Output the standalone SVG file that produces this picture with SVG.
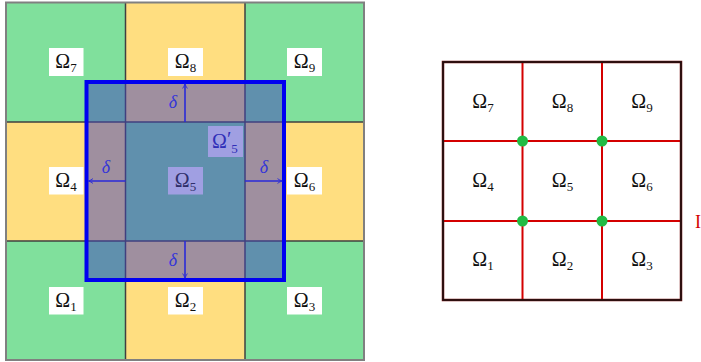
<svg xmlns="http://www.w3.org/2000/svg" width="701" height="362" viewBox="0 0 701 362">
<style>
.g{fill:#80e09c}
.y{fill:#ffde80}
.grid{stroke:#404040;stroke-width:1.5;fill:none}
.lbl{font-family:"Liberation Serif","DejaVu Serif",serif;font-size:20px;fill:#111}
.sub{font-size:13px}
.box{fill:#ffffff}
.d{font-family:"Liberation Serif","DejaVu Serif",serif;font-style:italic;font-size:18px;fill:#3535d8}
.arr{stroke:#2a2ad8;stroke-width:1.6;fill:none;marker-end:url(#ah)}
.red{stroke:#d40000;stroke-width:2;fill:none}
.dot{fill:#22bb44}
</style>
<defs>
<marker id="ah" viewBox="0 0 10 10" refX="8.5" refY="5" markerWidth="6" markerHeight="6" orient="auto" markerUnits="userSpaceOnUse">
<path d="M1,1 Q5,4 9,5 Q5,6 1,9" fill="none" stroke="#2a2ad8" stroke-width="1.5"/>
</marker>
</defs>

<g id="left-panel">
<g id="cells">
<rect class="g" x="6" y="2.5" width="119.5" height="119.5"/>
<rect class="y" x="125.5" y="2.5" width="119.5" height="119.5"/>
<rect class="g" x="245" y="2.5" width="119" height="119.5"/>
<rect class="y" x="6" y="122" width="119.5" height="119"/>
<rect class="g" x="125.5" y="122" width="119.5" height="119"/>
<rect class="y" x="245" y="122" width="119" height="119"/>
<rect class="g" x="6" y="241" width="119.5" height="119"/>
<rect class="y" x="125.5" y="241" width="119.5" height="119"/>
<rect class="g" x="245" y="241" width="119" height="119"/>
<path class="grid" d="M125.5,2.5V360M245,2.5V360M6,122H364M6,241H364"/>
<rect x="6" y="2.5" width="358" height="357.5" fill="none" stroke="#808080" stroke-width="2"/>
</g>
<g id="omega5prime-region">
<rect x="86.5" y="82" width="197.5" height="198" fill="#4040be" fill-opacity="0.5"/>
<rect x="86.5" y="82" width="197.5" height="198" fill="none" stroke="#0000f0" stroke-width="4"/>
</g>
<g id="L7"><rect class="box" x="49" y="48" width="34.5" height="28"/><text class="lbl" x="66" y="68" text-anchor="middle">Ω<tspan class="sub" dy="4">7</tspan></text></g>
<g id="L8"><rect class="box" x="168" y="48" width="35" height="28"/><text class="lbl" x="185.5" y="68" text-anchor="middle">Ω<tspan class="sub" dy="4">8</tspan></text></g>
<g id="L9"><rect class="box" x="287" y="48" width="35" height="28"/><text class="lbl" x="304.5" y="68" text-anchor="middle">Ω<tspan class="sub" dy="4">9</tspan></text></g>
<g id="L4"><rect class="box" x="49" y="167" width="34.5" height="27.5"/><text class="lbl" x="66" y="187" text-anchor="middle">Ω<tspan class="sub" dy="4">4</tspan></text></g>
<g id="L5"><rect x="168" y="167" width="35" height="27.5" fill="#a09fe2"/><text class="lbl" x="185.5" y="187" text-anchor="middle" style="fill:#30306a">Ω<tspan class="sub" dy="4">5</tspan></text></g>
<g id="L6"><rect class="box" x="287" y="167" width="35" height="27.5"/><text class="lbl" x="304.5" y="187" text-anchor="middle">Ω<tspan class="sub" dy="4">6</tspan></text></g>
<g id="L1"><rect class="box" x="49" y="287" width="34.5" height="27.5"/><text class="lbl" x="66" y="307" text-anchor="middle">Ω<tspan class="sub" dy="4">1</tspan></text></g>
<g id="L2"><rect class="box" x="168" y="287" width="35" height="27.5"/><text class="lbl" x="185.5" y="307" text-anchor="middle">Ω<tspan class="sub" dy="4">2</tspan></text></g>
<g id="L3"><rect class="box" x="287" y="287" width="35" height="27.5"/><text class="lbl" x="304.5" y="307" text-anchor="middle">Ω<tspan class="sub" dy="4">3</tspan></text></g>
<g id="L5p"><rect x="208" y="126" width="35" height="31" fill="#a09fe2"/>
<text class="lbl" x="212" y="148" style="fill:#3030b8">Ω<tspan style="font-size:20px" dy="-2">′</tspan><tspan class="sub" dx="0" dy="7">5</tspan></text></g>
<g id="connectors">
<path class="arr" d="M185,122V84"/>
<path class="arr" d="M185,241V278"/>
<path class="arr" d="M125.5,181H88.5"/>
<path class="arr" d="M245,181H282"/>
</g>
<g id="deltas">
<text class="d" x="173" y="108" text-anchor="middle">δ</text>
<text class="d" x="106" y="173" text-anchor="middle">δ</text>
<text class="d" x="264" y="173" text-anchor="middle">δ</text>
<text class="d" x="173" y="266" text-anchor="middle">δ</text>
</g>
</g>

<g id="right-panel">
<rect x="443" y="62" width="238" height="238" fill="#ffffff"/>
<path class="red" d="M522.5,62V300M602,62V300M443,141H681M443,221H681"/>
<rect x="443" y="62" width="238" height="238" fill="none" stroke="#7a1010" stroke-width="2.5"/>
<rect x="443" y="62" width="238" height="238" fill="none" stroke="#111" stroke-width="1.4"/>
<circle class="dot" cx="522.5" cy="141" r="5.5"/>
<circle class="dot" cx="602" cy="141" r="5.5"/>
<circle class="dot" cx="522.5" cy="221" r="5.5"/>
<circle class="dot" cx="602" cy="221" r="5.5"/>
<g id="R7"><text class="lbl" x="483" y="108" text-anchor="middle">Ω<tspan class="sub" dy="4">7</tspan></text></g>
<g id="R8"><text class="lbl" x="562.5" y="108" text-anchor="middle">Ω<tspan class="sub" dy="4">8</tspan></text></g>
<g id="R9"><text class="lbl" x="642" y="108" text-anchor="middle">Ω<tspan class="sub" dy="4">9</tspan></text></g>
<g id="R4"><text class="lbl" x="483" y="187" text-anchor="middle">Ω<tspan class="sub" dy="4">4</tspan></text></g>
<g id="R5"><text class="lbl" x="562.5" y="187" text-anchor="middle">Ω<tspan class="sub" dy="4">5</tspan></text></g>
<g id="R6"><text class="lbl" x="642" y="187" text-anchor="middle">Ω<tspan class="sub" dy="4">6</tspan></text></g>
<g id="R1"><text class="lbl" x="483" y="266" text-anchor="middle">Ω<tspan class="sub" dy="4">1</tspan></text></g>
<g id="R2"><text class="lbl" x="562.5" y="266" text-anchor="middle">Ω<tspan class="sub" dy="4">2</tspan></text></g>
<g id="R3"><text class="lbl" x="642" y="266" text-anchor="middle">Ω<tspan class="sub" dy="4">3</tspan></text></g>
<text x="698" y="228" text-anchor="middle" style="font-family:'Liberation Serif',serif;font-size:18px;fill:#d40000">I</text>
</g>
</svg>
